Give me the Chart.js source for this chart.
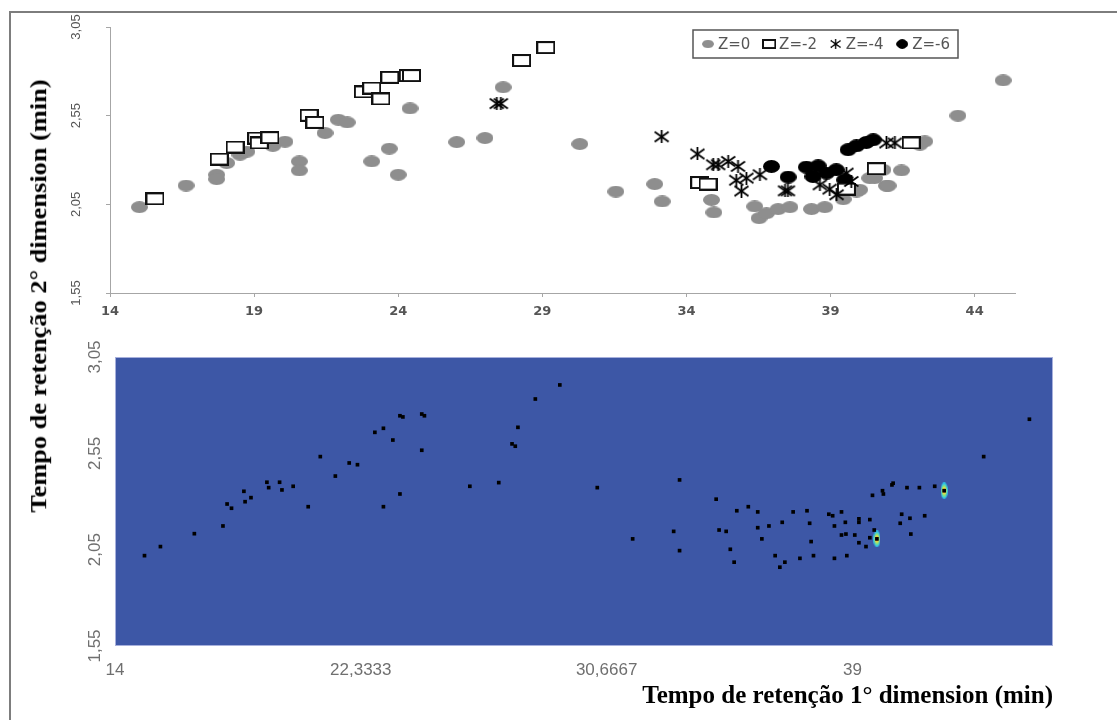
<!DOCTYPE html>
<html>
<head>
<meta charset="utf-8">
<script src="https://cdn.jsdelivr.net/npm/chart.js@4.4.1/dist/chart.umd.min.js"></script>
<style>
  body { margin: 0; background: #fff; width: 1117px; height: 720px; overflow: hidden; position: relative; }
  #frame { position: absolute; left: 9px; top: 11px; width: 1120px; height: 720px; border-left: 2px solid #7d7d7d; border-top: 2px solid #7d7d7d; }
  #topWrap { position: absolute; left: 50px; top: 0; }
  #bottomWrap { position: absolute; left: 50px; top: 330px; }
  #ytitle { position: absolute; font: bold 24px 'Liberation Serif', 'Times New Roman', serif; white-space: nowrap; color: #000; line-height: 28px; }
</style>
</head>
<body>
<div id="frame"></div>
<div id="topWrap"><canvas id="topChart" width="1000" height="330"></canvas></div>
<div id="bottomWrap"><canvas id="bottomChart" width="1030" height="390"></canvas></div>
<div id="ytitle">Tempo de retenção 2° dimension (min)</div>

<script>
// axis ticks
const topXTicks = [14, 19, 24, 29, 34, 39, 44]
const yTicks = [1.55, 2.05, 2.55, 3.05]
const bottomXTicks = [14, 22.3333, 30.6667, 39]
const bottomXLabels = ['14', '22,3333', '30,6667', '39']

// Z=0 (grey dots)
const z0X = [15.02, 16.64, 17.70, 17.70, 18.05, 18.51, 18.75, 19.20, 19.65, 20.07, 20.57, 20.57, 21.46, 21.92, 22.23,
  23.08, 23.69, 24.00, 24.41, 26.03, 27.01, 27.64, 30.30, 31.55, 32.90, 33.16, 34.87, 34.95, 36.37, 36.52, 36.78,
  37.18, 37.59, 38.34, 38.80, 39.44, 39.90, 40.01, 40.36, 40.53, 40.82, 40.94, 41.00, 41.46, 42.10, 42.27, 43.42, 44.99]
const z0Y = [2.034, 2.156, 2.217, 2.192, 2.283, 2.330, 2.347, 2.397, 2.380, 2.403, 2.292, 2.241, 2.452, 2.527, 2.512,
  2.292, 2.364, 2.217, 2.591, 2.401, 2.424, 2.710, 2.390, 2.122, 2.164, 2.066, 2.075, 2.004, 2.038, 1.972, 2.000,
  2.023, 2.034, 2.023, 2.034, 2.079, 2.122, 2.132, 2.198, 2.198, 2.245, 2.155, 2.155, 2.241, 2.386, 2.405, 2.550, 2.749]

// Z=-2 (open squares)
const z2X = [15.56, 17.79, 18.34, 19.09, 19.18, 19.55, 20.91, 21.11, 22.79, 23.08, 23.40, 23.71, 24.35, 24.46,
  28.28, 29.12, 34.46, 34.75, 39.55, 40.59, 41.80]
const z2Y = [2.081, 2.305, 2.373, 2.424, 2.396, 2.426, 2.552, 2.512, 2.684, 2.706, 2.644, 2.766, 2.776, 2.776,
  2.861, 2.934, 2.173, 2.164, 2.136, 2.251, 2.396]

// Z=-4 (asterisks)
const z4X = [27.42, 27.56, 33.14, 34.38, 34.93, 35.10, 35.45, 35.79, 35.73, 36.08, 36.55, 35.91, 37.42, 37.52,
  38.63, 38.97, 39.21, 39.55, 39.72, 40.94, 41.23]
const z4Y = [2.618, 2.618, 2.431, 2.334, 2.273, 2.273, 2.292, 2.264, 2.186, 2.198, 2.217, 2.125, 2.126, 2.126,
  2.160, 2.136, 2.104, 2.226, 2.179, 2.396, 2.396]

// Z=-6 (black dots)
const z6X = [36.95, 37.53, 38.16, 38.57, 38.39, 38.86, 39.20, 39.49, 39.61, 39.90, 40.24, 40.48]
const z6Y = [2.264, 2.204, 2.260, 2.267, 2.207, 2.226, 2.245, 2.188, 2.358, 2.380, 2.399, 2.414]

// blobs of the 2D map
const blobX = [15.00, 15.54, 16.69, 17.66, 17.80, 17.95, 18.37, 18.41, 18.61, 19.15, 19.21, 19.58, 19.66, 20.04,
  20.55, 20.96, 21.47, 21.94, 22.22, 22.81, 23.10, 23.42, 23.10, 23.66, 23.66, 23.76, 24.40, 24.49, 24.40, 26.03,
  27.01, 27.46, 27.57, 27.66, 28.25, 29.08, 45.00, 43.45, 30.35, 31.55, 32.94, 33.14, 33.14, 34.38, 34.48, 34.72,
  34.86, 34.99, 35.08, 35.47, 35.79, 35.79, 35.93, 36.17, 36.38, 36.54, 36.71, 36.62, 36.99, 37.22, 37.46, 37.55,
  37.60, 37.68, 38.20, 38.33, 38.63, 38.39, 38.76, 38.63, 38.78, 38.39, 38.81, 39.08, 39.22, 39.22, 39.22, 39.46,
  39.59, 39.74, 39.59, 39.83, 39.68, 40.02, 40.05, 40.34, 40.38, 40.85, 41.27, 41.79, 42.11, 40.67, 40.62, 40.95,
  40.98, 41.45]
const blobY = [2.019, 2.066, 2.133, 2.173, 2.287, 2.265, 2.353, 2.299, 2.320, 2.400, 2.372, 2.400, 2.360, 2.379,
  2.273, 2.533, 2.432, 2.500, 2.491, 2.659, 2.680, 2.619, 2.273, 2.339, 2.745, 2.739, 2.754, 2.745, 2.566, 2.379,
  2.398, 2.599, 2.587, 2.685, 2.832, 2.905, 2.727, 2.533, 2.372, 2.106, 2.145, 2.412, 2.045, 2.312, 2.152, 2.145,
  2.052, 1.985, 2.252, 2.273, 2.246, 2.164, 2.106, 2.173, 2.019, 1.959, 1.985, 2.192, 2.246, 2.005, 2.252, 2.187,
  2.092, 2.019, 2.234, 2.226, 2.246, 2.173, 2.192, 2.126, 2.131, 2.005, 2.019, 2.126, 2.210, 2.192, 2.086, 2.066,
  2.206, 2.152, 2.112, 2.106, 2.332, 2.356, 2.339, 2.386, 2.395, 2.372, 2.372, 2.379, 2.356, 2.234, 2.187, 2.213,
  2.131, 2.226]
// the two strong peaks
const peakX = [39.83, 42.11]
const peakY = [2.106, 2.356]

const pts = (xs, ys) => xs.map((x, i) => ({ x: x, y: ys[i] }))
const comma = v => v.toFixed(2).replace('.', ',')

// marker images
function marker(w, h, draw) {
  const c = document.createElement('canvas')
  c.width = w; c.height = h
  draw(c.getContext('2d'), w, h)
  return c
}
const greyDot = marker(17, 12, (g, w, h) => {
  g.fillStyle = '#8e8e8e'
  g.beginPath(); g.ellipse(w / 2, h / 2, w / 2, h / 2, 0, 0, Math.PI * 2); g.fill()
})
const blackDot = marker(17, 13, (g, w, h) => {
  g.fillStyle = '#000'
  g.beginPath(); g.ellipse(w / 2, h / 2, w / 2, h / 2, 0, 0, Math.PI * 2); g.fill()
})
const openSquare = marker(19, 13, (g, w, h) => {
  g.fillStyle = '#fff'; g.fillRect(1, 1, w - 2, h - 2)
  g.strokeStyle = '#111'; g.lineWidth = 2; g.strokeRect(1, 1, w - 2, h - 2)
})
const asterisk = marker(17, 13, (g, w, h) => {
  g.strokeStyle = '#000'; g.lineWidth = 1.8
  g.beginPath()
  g.moveTo(1.5, 1.5); g.lineTo(w - 1.5, h - 1.5)
  g.moveTo(w - 1.5, 1.5); g.lineTo(1.5, h - 1.5)
  g.moveTo(w / 2, 0); g.lineTo(w / 2, h)
  g.stroke()
})
const peak = marker(7, 17, (g, w, h) => {
  const cols = ['#2fc4e8', '#7fe08a', '#e8e040', '#e03a20']
  cols.forEach((c, i) => {
    g.fillStyle = c
    g.beginPath(); g.ellipse(w / 2, h / 2, w / 2 - i * 0.8, h / 2 - i * 2.2, 0, 0, Math.PI * 2); g.fill()
  })
})

// boxed legend for the upper plot
const boxLegend = {
  id: 'boxLegend',
  afterDraw(chart, args, opts) {
    const ctx = chart.ctx
    ctx.save()
    ctx.strokeStyle = '#555'; ctx.lineWidth = 1.5
    ctx.strokeRect(opts.left, opts.top, opts.width, opts.height)
    ctx.font = '15px "DejaVu Sans"'
    ctx.fillStyle = '#555'
    ctx.textBaseline = 'middle'
    const cy = opts.top + opts.height / 2
    const items = chart.data.datasets.map(d => ({ img: d.pointStyle, text: d.label, tw: ctx.measureText(d.label).width }))
    const used = items.reduce((s, it) => s + 14 + 3 + it.tw, 0)
    const gap = (opts.width - 16 - used) / (items.length - 1)
    let x = opts.left + 8
    items.forEach(it => {
      const iw = it.img.width * 0.7, ih = it.img.height * 0.7
      ctx.drawImage(it.img, x + 7 - iw / 2, cy - ih / 2, iw, ih)
      x += 17
      ctx.fillText(it.text, x, cy + 1)
      x += it.tw + gap
    })
    ctx.restore()
  }
}

// blue map background
const mapBackground = {
  id: 'mapBackground',
  beforeDatasetsDraw(chart) {
    const { ctx, chartArea: a } = chart
    ctx.save()
    ctx.fillStyle = '#3d57a6'
    ctx.fillRect(a.left, a.top, a.right - a.left, a.bottom - a.top)
    ctx.strokeStyle = '#a7b0dc'; ctx.lineWidth = 1
    ctx.strokeRect(a.left + 0.5, a.top + 0.5, a.right - a.left - 1, a.bottom - a.top - 1)
    ctx.restore()
  }
}

const axisGrey = '#a6a6a6'

new Chart(document.getElementById('topChart'), {
  type: 'scatter',
  data: {
    datasets: [
      { label: 'Z=0', data: pts(z0X, z0Y), pointStyle: greyDot, pointRadius: 6, order: 4 },
      { label: 'Z=-2', data: pts(z2X, z2Y), pointStyle: openSquare, pointRadius: 6, order: 2 },
      { label: 'Z=-4', data: pts(z4X, z4Y), pointStyle: asterisk, pointRadius: 6, order: 1 },
      { label: 'Z=-6', data: pts(z6X, z6Y), pointStyle: blackDot, pointRadius: 6, order: 3 }
    ]
  },
  options: {
    responsive: false,
    animation: false,
    events: [],
    layout: { padding: { top: 27, right: 35, left: 0, bottom: 0 } },
    plugins: {
      legend: { display: false },
      tooltip: { enabled: false },
      boxLegend: { left: 643, top: 30, width: 265, height: 28 }
    },
    scales: {
      x: {
        type: 'linear', min: 14, max: 45.4,
        afterBuildTicks: s => { s.ticks = topXTicks.map(v => ({ value: v })) },
        afterFit: s => { s.height = 37 },
        border: { color: axisGrey },
        grid: { drawOnChartArea: false, tickLength: 4, color: axisGrey },
        ticks: { font: { family: 'DejaVu Sans', weight: 'bold', size: 13 }, color: '#555', padding: 7, maxRotation: 0, autoSkip: false }
      },
      y: {
        min: 1.55, max: 3.05,
        afterBuildTicks: s => { s.ticks = yTicks.map(v => ({ value: v })) },
        afterFit: s => { s.width = 60 },
        border: { color: axisGrey },
        grid: { drawOnChartArea: false, tickLength: 4, color: axisGrey },
        ticks: {
          font: { family: 'Liberation Sans Narrow, Liberation Sans', size: 13 }, color: '#555',
          minRotation: 90, maxRotation: 90, crossAlign: 'center', padding: 17, autoSkip: false,
          callback: v => comma(v)
        }
      }
    }
  },
  plugins: [boxLegend]
})

new Chart(document.getElementById('bottomChart'), {
  type: 'scatter',
  data: {
    datasets: [
      { label: 'picos', data: pts(blobX, blobY), pointStyle: 'rect', pointRadius: 2.6, borderWidth: 0, backgroundColor: '#000', order: 1 },
      { label: 'max', data: pts(peakX, peakY), pointStyle: peak, pointRadius: 4, order: 2 }
    ]
  },
  options: {
    responsive: false,
    animation: false,
    events: [],
    layout: { padding: { top: 27, right: 27, left: 0, bottom: 0 } },
    plugins: { legend: { display: false }, tooltip: { enabled: false } },
    scales: {
      x: {
        type: 'linear', min: 14, max: 45.8,
        afterBuildTicks: s => { s.ticks = bottomXTicks.map(v => ({ value: v })) },
        afterFit: s => { s.height = 74 },
        border: { display: false },
        grid: { display: false, drawTicks: false },
        ticks: {
          font: { family: 'Liberation Sans', size: 17 }, color: '#6f6f6f', padding: 14, maxRotation: 0, autoSkip: false,
          callback: (v, i) => bottomXLabels[i]
        },
        title: {
          display: true, text: 'Tempo de retenção 1° dimension (min)', align: 'end', color: '#000',
          font: { family: 'Liberation Serif', weight: 'bold', size: 25 }, padding: { top: 0, bottom: 8 }
        }
      },
      y: {
        min: 1.55, max: 3.05,
        afterBuildTicks: s => { s.ticks = yTicks.map(v => ({ value: v })) },
        afterFit: s => { s.width = 65 },
        border: { display: false },
        grid: { display: false, drawTicks: false },
        ticks: {
          font: { family: 'Liberation Sans', size: 17 }, color: '#6f6f6f',
          minRotation: 90, maxRotation: 90, crossAlign: 'center', padding: 3, autoSkip: false,
          callback: v => comma(v)
        }
      }
    }
  },
  plugins: [mapBackground]
})

// shared vertical title, spanning both plots
const t = document.getElementById('ytitle')
const tw = t.offsetWidth, th = t.offsetHeight
t.style.left = (38 - tw / 2) + 'px'
t.style.top = (296 - th / 2) + 'px'
t.style.transform = 'rotate(-90deg) scaleX(' + (433 / tw) + ')'
</script>
</body>
</html>
